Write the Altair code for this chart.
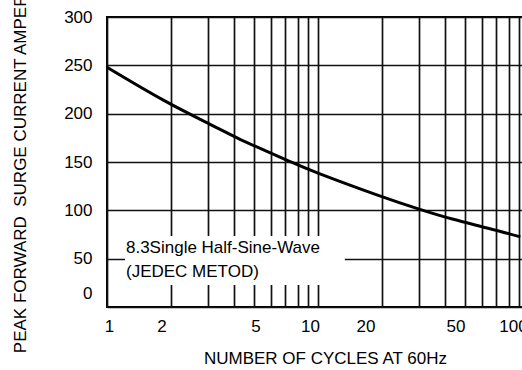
import altair as alt
import pandas as pd

# Curve: cycles at 60 Hz -> peak forward surge current (A)
cycles = [1, 1.85, 3.08, 4.27, 5.73, 7.37, 10.0, 19.0, 30.4, 43.3, 64.0, 91.0]
current = [248, 214, 189, 173.5, 161, 150.5, 138.5, 116, 101, 91, 81.5, 72.5]

# Axis ticks / grid
x_grid = [1, 2, 3, 4, 5, 6, 7, 8, 9, 10, 20, 30, 40, 50, 60, 70, 80, 90, 100]
x_labels = [1, 2, 5, 10, 20, 50, 100]
x_label_shift = [2, -9, 1, -8, -16, -10, -16]
y_ticks = [0, 50, 100, 150, 200, 250, 300]

# Annotation
note_lines = ["8.3Single Half-Sine-Wave", "(JEDEC METOD)"]
note_x = [1.23, 1.23]
note_y = [61, 36]
box_x = [1.217, 13.4]
box_y = [22.8, 73.4]

FONT = "Liberation Sans"

curve_df = pd.DataFrame({"cycles": cycles, "current": current})
note_df = pd.DataFrame({"cycles": note_x, "current": note_y, "t": note_lines})
box_df = pd.DataFrame({"cycles": [box_x[0]], "cycles2": [box_x[1]],
                       "current": [box_y[0]], "current2": [box_y[1]]})

x_cond = [{"test": f"datum.value == {v}", "value": s} for v, s in zip(x_labels, x_label_shift)]
label_list = ",".join(str(v) for v in x_labels)

x_axis = alt.Axis(
    values=x_grid,
    format="d",
    labelExpr=f"indexof([{label_list}], datum.value) >= 0 ? datum.label : ''",
    labelOverlap=False,
    labelFlush=False,
    labelBound=False,
    labelPadding=11,
    labelOffset={"condition": x_cond, "value": 0},
    title="NUMBER OF CYCLES AT 60Hz",
    titlePadding=16,
    titleX=218,
    titleAnchor="middle",
)
y_axis = alt.Axis(
    values=y_ticks,
    labelPadding=15,
    labelOffset={"condition": [{"test": "datum.value == 0", "value": -14}], "value": 0},
    title="PEAK FORWARD\u00a0 SURGE CURRENT AMPERES",
    titlePadding=34,
)

x_scale = alt.Scale(type="log", domain=[1, 100], nice=False)
y_scale = alt.Scale(domain=[0, 300], nice=False)

def X():
    return alt.X("cycles:Q", scale=x_scale, axis=x_axis)

def Y():
    return alt.Y("current:Q", scale=y_scale, axis=y_axis)

box = alt.Chart(box_df).mark_rect(fill="white").encode(
    x=X(), x2="cycles2:Q", y=Y(), y2="current2:Q"
)
line = alt.Chart(curve_df).mark_line(
    color="black", strokeWidth=3, interpolate="natural", clip=True
).encode(x=X(), y=Y())
text = alt.Chart(note_df).mark_text(
    align="left", baseline="middle", fontSize=17, font=FONT, color="black"
).encode(x=X(), y=Y(), text="t:N")

chart = (
    alt.layer(box, line, text)
    .properties(
        width=422,
        height=290,
        padding={"left": 107, "top": 17, "right": -7, "bottom": 63},
        autosize=alt.AutoSizeParams(type="none"),
        background="white",
    )
    .configure_view(stroke="black", strokeWidth=2)
    .configure_axis(
        labelFont=FONT,
        labelFontSize=17,
        labelColor="black",
        titleFont=FONT,
        titleFontSize=17,
        titleFontWeight="normal",
        titleColor="black",
        gridColor="#111111",
        gridWidth=1.7,
        gridOpacity=1,
        domain=False,
        ticks=False,
    )
)

chart.save("out.html", embed_options={"renderer": "svg", "actions": False})
